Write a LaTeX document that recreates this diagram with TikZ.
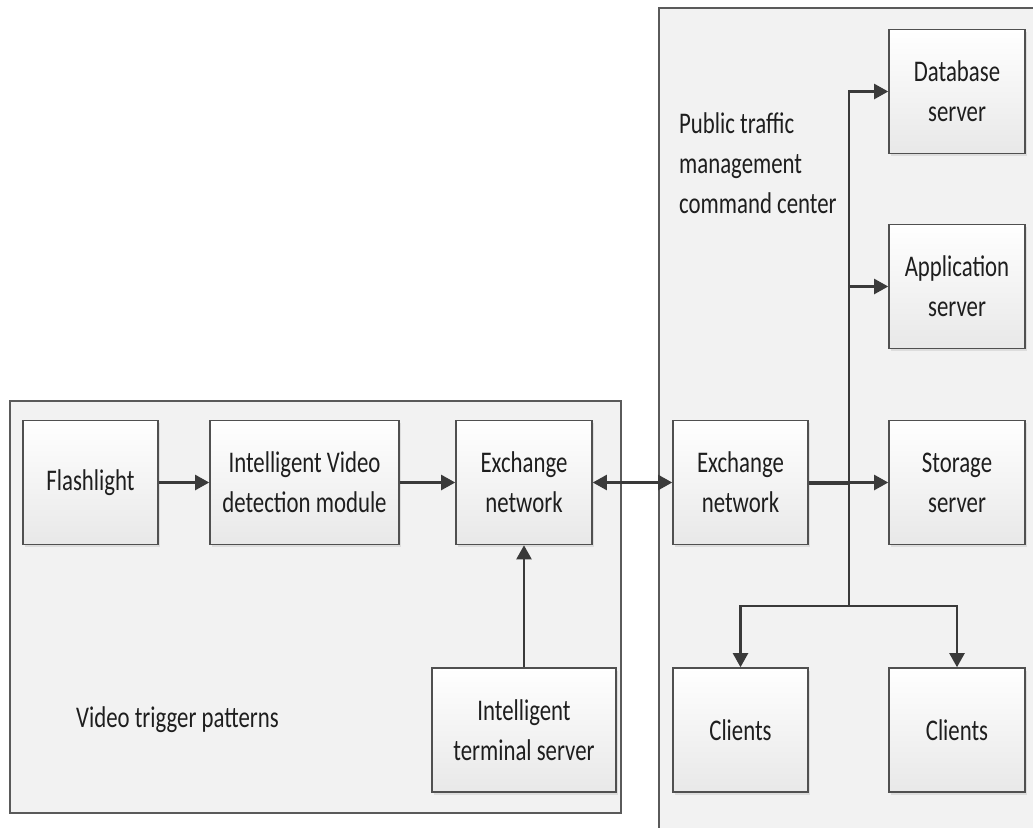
\documentclass[tikz,border=0pt]{standalone}
\usepackage{fontspec}
\setmainfont{Carlito}[FakeStretch=0.76]
\usetikzlibrary{arrows.meta,shadows}
\definecolor{linec}{HTML}{3A3A3A}
\definecolor{boxline}{HTML}{505050}
\definecolor{contfill}{HTML}{F2F2F2}
\definecolor{contline}{HTML}{5A5A5A}
\definecolor{txt}{HTML}{1E1E1E}
\tikzset{
  box/.style={draw=boxline, line width=1.6pt, top color=white, bottom color=black!9,
    minimum width=136pt, minimum height=124pt, inner sep=0pt, align=center,
    text=txt, font=\fontsize{30}{40}\selectfont,
    drop shadow={shadow xshift=2pt, shadow yshift=-2.5pt, opacity=0.18}},
  container/.style={draw=contline, line width=1.3pt, fill=contfill, inner sep=0pt},
  conn/.style={draw=linec, line width=2.2pt},
  arrend/.style={-{Triangle[length=14pt,width=15pt]}},
  arrboth/.style={{Triangle[length=14pt,width=15pt]}-{Triangle[length=14pt,width=15pt]}},
  lbl/.style={text=txt, font=\fontsize{30}{40}\selectfont, inner sep=0pt, align=left}
}
\begin{document}
\begin{tikzpicture}[x=1pt,y=-1pt]
\useasboundingbox (0,0) rectangle (1033,827);
\fill[white] (0,0) rectangle (1033,827);
% containers
\node[container, minimum width=611pt, minimum height=412pt] (leftc) at (315.5,607) {};
\node[container, minimum width=390pt, minimum height=840pt] (rightc) at (854,428) {};
% boxes
\node[box, minimum width=135pt] (flash) at (90.5,482.5) {Flashlight};
\node[box, minimum width=189pt] (ivd) at (304.5,482.5) {Intelligent Video\\detection module};
\node[box] (exl) at (524,482.5) {Exchange\\network};
\node[box, minimum width=184pt] (its) at (524,730) {Intelligent\\terminal server};
\node[box, minimum width=135pt] (exr) at (740.5,482.5) {Exchange\\network};
\node[box] (db) at (957,91.5) {Database\\server};
\node[box] (app) at (957,286.5) {Application\\server};
\node[box] (st) at (957,482.5) {Storage\\server};
\node[box, minimum width=135pt] (cl1) at (740.5,730) {Clients};
\node[box] (cl2) at (957,730) {Clients};
% labels
\node[lbl, anchor=base west] (vtp) at (76,727) {Video trigger patterns};
\node[lbl, anchor=base west] (ptm) at (679,213) {Public traffic\\management\\command center};
% connectors
\draw[conn,arrend] (flash) -- (ivd);
\draw[conn,arrend] (ivd) -- (exl);
\draw[conn,arrboth] (exl) -- (exr);
\draw[conn,arrend] (its) -- (exl);
\coordinate (bt) at (849,91.5);
\coordinate (ba) at (849,286.5);
\coordinate (bs) at (849,482.5);
\coordinate (bb) at (849,606);
\draw[conn,arrend] (bb) -- (bt) -- (db);
\draw[conn,arrend] (ba) -- (app);
\draw[conn, line width=4pt] (exr) -- (bs);
\draw[conn,arrend] (bs) -- (st);
\draw[conn,arrend] (bb) -| (cl1);
\draw[conn,arrend] (bb) -| (cl2);
\end{tikzpicture}
\end{document}
